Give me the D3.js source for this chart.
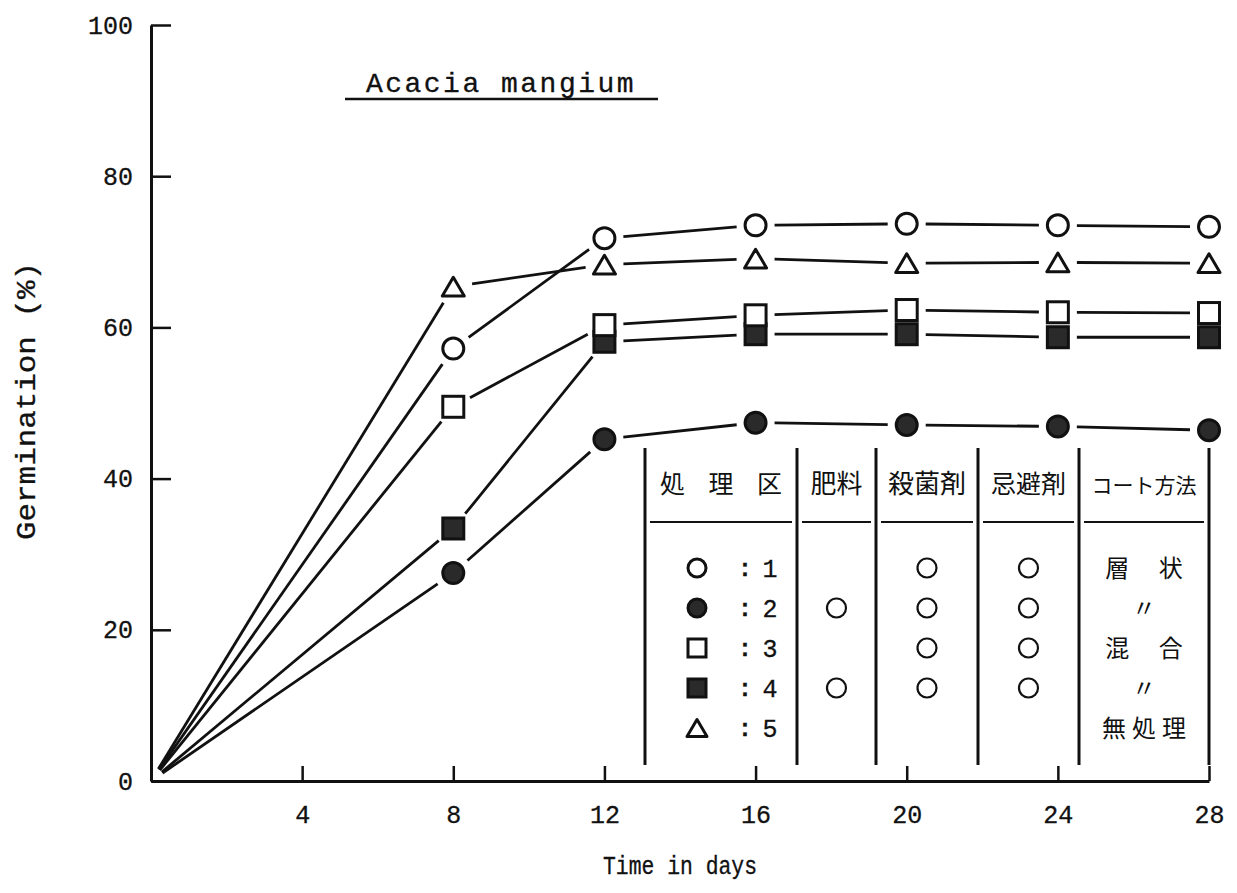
<!DOCTYPE html>
<html>
<head>
  <meta charset="utf-8">
  <title>Acacia mangium germination</title>
  <script src="https://cdn.jsdelivr.net/npm/d3@7"></script>
  <style>
    body { margin: 0; background: #fff; }
    .mono { font-family: "Liberation Mono", "DejaVu Sans Mono", monospace; fill: #111; stroke: #111; stroke-width: 0.3px; }
    .jp { font-family: "Noto Sans CJK JP", sans-serif; fill: #111; }
  </style>
</head>
<body>
<script>
  // data
  var days = [0, 8, 12, 16, 20, 24, 28];
  var s1 = [0, 57.2, 71.8, 73.5, 73.7, 73.5, 73.3];   // open circle
  var s2 = [0, 27.5, 45.2, 47.4, 47.1, 46.9, 46.4];   // filled circle
  var s3 = [0, 49.5, 60.3, 61.6, 62.3, 62.0, 61.9];   // open square
  var s4 = [0, 33.4, 58.1, 59.1, 59.1, 58.7, 58.7];   // filled square
  var s5 = [0, 65.4, 68.3, 69.1, 68.5, 68.6, 68.5];   // triangle
  var xTicks = [4, 8, 12, 16, 20, 24, 28];
  var yTicks = [0, 20, 40, 60, 80, 100];

  // legend table
  var headers = ["処 理 区", "肥料", "殺菌剤", "忌避剤", "コート方法"];
  var rowNums = ["1", "2", "3", "4", "5"];
  var fertilizer = [0, 1, 0, 1, 0];
  var fungicide = [1, 1, 1, 1, 0];
  var repellent = [1, 1, 1, 1, 0];
  var method = ["層 状", "〃", "混 合", "〃", "無処理"];

  var series = [
    {vals: s1, shape: "circle", filled: false},
    {vals: s2, shape: "circle", filled: true},
    {vals: s4, shape: "square", filled: true},
    {vals: s3, shape: "square", filled: false},
    {vals: s5, shape: "triangle", filled: false}
  ];

  var W = 1237, H = 893;
  var svg = d3.select("body").append("svg")
      .attr("width", W)
      .attr("height", H);

  var x = d3.scaleLinear().domain([0, 28]).range([151, 1209]);
  var y = d3.scaleLinear().domain([0, 100]).range([781, 25]);

  var ink = "#111";
  var fillInk = "#2a2a2a";

  // x axis, ticks point up
  var gx = svg.append("g")
      .attr("transform", "translate(0," + y(0) + ")")
      .call(d3.axisBottom(x).tickValues(xTicks).tickSizeInner(-15).tickSizeOuter(0).tickPadding(24));
  gx.select(".domain").attr("stroke", ink).attr("stroke-width", 3);
  gx.selectAll(".tick line").attr("stroke", ink).attr("stroke-width", 2.5);
  gx.selectAll(".tick text").attr("class", "mono").style("font-size", "25px");

  // y axis, ticks point right
  var gy = svg.append("g")
      .attr("transform", "translate(" + x(0) + ",0)")
      .call(d3.axisLeft(y).tickValues(yTicks).tickSizeInner(-20).tickSizeOuter(0).tickPadding(18));
  gy.select(".domain").attr("stroke", ink).attr("stroke-width", 3);
  gy.selectAll(".tick line").attr("stroke", ink).attr("stroke-width", 2.5);
  gy.selectAll(".tick text").attr("class", "mono").style("font-size", "25px");

  // axis labels
  svg.append("text").attr("class", "mono")
      .attr("x", 603).attr("y", 874)
      .attr("textLength", 154).attr("lengthAdjust", "spacingAndGlyphs")
      .style("font-size", "25px")
      .text("Time in days");

  svg.append("text").attr("class", "mono")
      .attr("transform", "translate(35,540) rotate(-90)")
      .attr("textLength", 278).attr("lengthAdjust", "spacingAndGlyphs")
      .style("font-size", "27px")
      .text("Germination (%)");

  // title with underline
  svg.append("text").attr("class", "mono")
      .attr("x", 501).attr("y", 92)
      .attr("text-anchor", "middle")
      .style("font-size", "28px").style("letter-spacing", "2.5px")
      .text("Acacia mangium");
  svg.append("line")
      .attr("x1", 345).attr("x2", 658).attr("y1", 99).attr("y2", 99)
      .attr("stroke", ink).attr("stroke-width", 2.5);

  // line segments with gaps around markers
  series.forEach(function(s) {
    for (var i = 0; i < days.length - 1; i++) {
      var x0 = x(days[i]), y0 = y(s.vals[i]);
      var x1 = x(days[i + 1]), y1 = y(s.vals[i + 1]);
      var len = Math.sqrt((x1 - x0) * (x1 - x0) + (y1 - y0) * (y1 - y0));
      var g0 = i === 0 ? 14 : 19, g1 = 19;
      var ux = (x1 - x0) / len, uy = (y1 - y0) / len;
      svg.append("line")
          .attr("x1", x0 + ux * g0).attr("y1", y0 + uy * g0)
          .attr("x2", x1 - ux * g1).attr("y2", y1 - uy * g1)
          .attr("stroke", ink).attr("stroke-width", 2.8);
    }
  });

  function drawMarker(g, shape, filled, cx, cy, sz) {
    var fill = filled ? fillInk : "#fff";
    if (shape === "circle") {
      g.append("circle").attr("cx", cx).attr("cy", cy).attr("r", sz / 2)
          .attr("fill", fill).attr("stroke", ink).attr("stroke-width", 3);
    } else if (shape === "square") {
      g.append("rect").attr("x", cx - sz / 2).attr("y", cy - sz / 2)
          .attr("width", sz).attr("height", sz)
          .attr("fill", fill).attr("stroke", ink).attr("stroke-width", 3);
    } else {
      var h = sz * 0.85;
      g.append("path")
          .attr("d", "M" + cx + "," + (cy - h / 2) + "L" + (cx + sz / 2) + "," + (cy + h / 2) +
                "L" + (cx - sz / 2) + "," + (cy + h / 2) + "Z")
          .attr("fill", fill).attr("stroke", ink).attr("stroke-width", 3)
          .attr("stroke-linejoin", "round");
    }
  }

  // markers (none at day 0)
  var gm = svg.append("g");
  series.forEach(function(s) {
    for (var i = 1; i < days.length; i++) {
      drawMarker(gm, s.shape, s.filled, x(days[i]), y(s.vals[i]), s.shape === "triangle" ? 22 : 21);
    }
  });

  // legend table
  var colX = [645, 797, 876, 978, 1079, 1209];
  var tTop = 448, tBot = 765, hdrY = 493, ruleY = 522;
  var rowY = [568, 608, 648, 688, 728];
  var gt = svg.append("g");

  colX.forEach(function(cx) {
    gt.append("line").attr("x1", cx).attr("x2", cx).attr("y1", tTop).attr("y2", tBot)
        .attr("stroke", ink).attr("stroke-width", 3);
  });
  var hdrSize = [25, 26, 26, 25, 21];
  var hdrSpace = [9, 0, 0, 0, 0];
  for (var c = 0; c < 5; c++) {
    gt.append("line").attr("x1", colX[c] + 5).attr("x2", colX[c + 1] - 5)
        .attr("y1", ruleY).attr("y2", ruleY)
        .attr("stroke", ink).attr("stroke-width", 2);
    gt.append("text").attr("class", "jp")
        .attr("x", (colX[c] + colX[c + 1]) / 2 + hdrSpace[c] / 2).attr("y", hdrY)
        .attr("text-anchor", "middle")
        .style("font-size", hdrSize[c] + "px")
        .style("letter-spacing", hdrSpace[c] + "px")
        .text(headers[c]);
  }

  var legShapes = [series[0], series[1], series[3], series[2], series[4]];
  rowY.forEach(function(ry, r) {
    drawMarker(gt, legShapes[r].shape, legShapes[r].filled, 697, ry, legShapes[r].shape === "triangle" ? 20 : 18);
    gt.append("text").attr("class", "mono")
        .attr("x", 745).attr("y", ry + 8).attr("text-anchor", "middle")
        .style("font-size", "24px").style("font-weight", "bold").text(":");
    gt.append("text").attr("class", "mono")
        .attr("x", 770).attr("y", ry + 9).attr("text-anchor", "middle")
        .style("font-size", "25px").text(rowNums[r]);

    [fertilizer, fungicide, repellent].forEach(function(arr, k) {
      if (arr[r]) {
        gt.append("circle")
            .attr("cx", (colX[k + 1] + colX[k + 2]) / 2).attr("cy", ry).attr("r", 9.5)
            .attr("fill", "none").attr("stroke", ink).attr("stroke-width", 2.2);
      }
    });

    var sp = method[r].indexOf(" ") > 0 ? 12 : (method[r].length === 3 ? 6 : 0);
    gt.append("text").attr("class", "jp")
        .attr("x", (colX[4] + colX[5]) / 2 + sp / 2).attr("y", ry + 9)
        .attr("text-anchor", "middle")
        .style("font-size", "24px")
        .style("letter-spacing", sp + "px")
        .text(method[r]);
  });
</script>
</body>
</html>
